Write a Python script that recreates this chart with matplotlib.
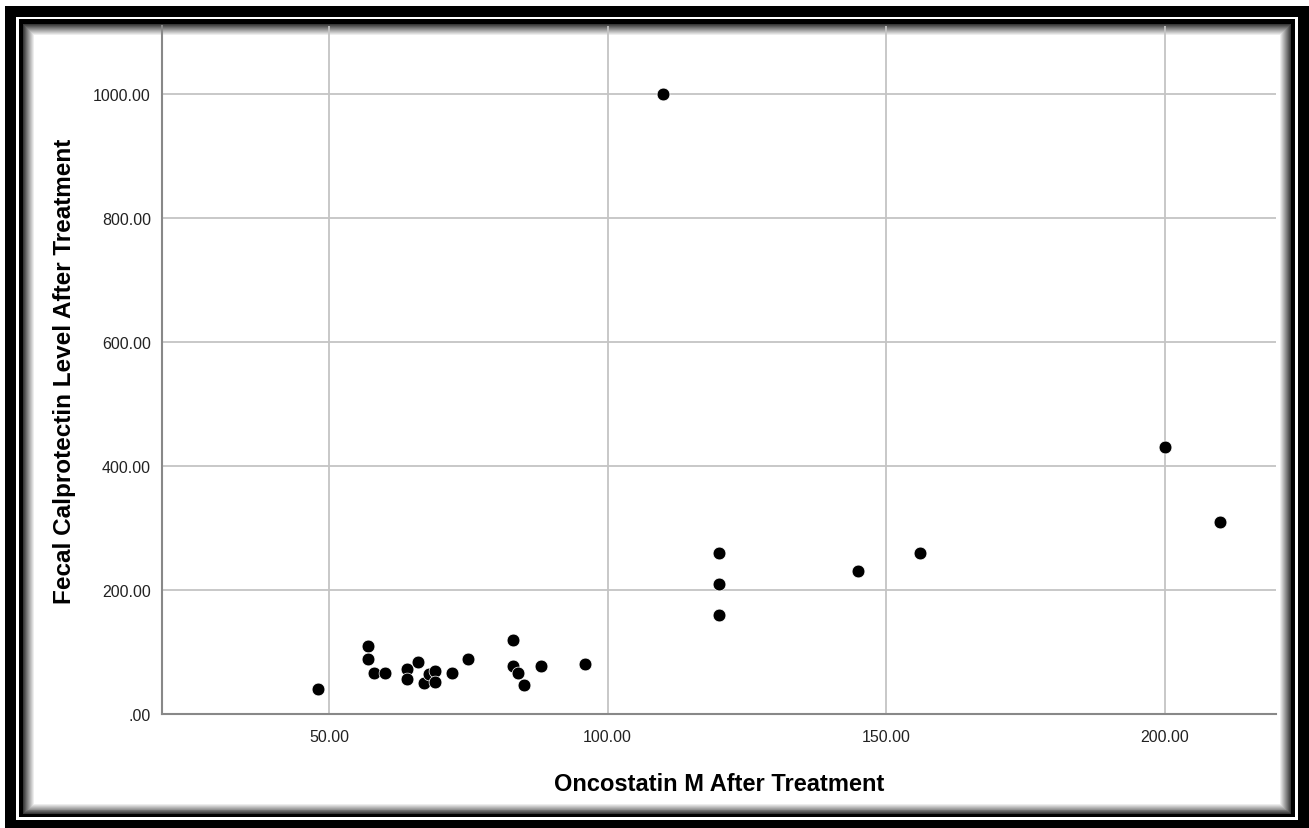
import matplotlib
matplotlib.use("Agg")
import matplotlib.pyplot as plt
from matplotlib.patches import Rectangle
from matplotlib.ticker import FuncFormatter

plt.rcParams['font.family'] = ['Liberation Sans', 'DejaVu Sans']

# oncostatin M vs fecal calprotectin, after treatment
osm = [48, 57, 57, 58, 60, 64, 64, 66, 67, 68, 69, 69, 72, 75,
       83, 83, 84, 85, 88, 96, 110, 120, 120, 120, 145, 156, 200, 210]
calpro = [40, 110, 88, 66, 66, 72, 57, 84, 50, 65, 70, 52, 66, 89,
          120, 78, 66, 46, 78, 80, 1000, 260, 210, 160, 230, 260, 431, 310]

xticks = [50, 100, 150, 200]
yticks = [0, 200, 400, 600, 800, 1000]

W, H = 1309, 829
fig = plt.figure(figsize=(W / 100, H / 100), dpi=100)


def box(x0, y0, x1, y1, color):
    # pixel coords, y from top
    fig.patches.append(Rectangle((x0 / W, 1 - y1 / H), (x1 - x0) / W, (y1 - y0) / H,
                                 transform=fig.transFigure, facecolor=color,
                                 edgecolor='none', zorder=-10))


# decorative frame
box(5, 7, W, H, 'black')
box(16, 18, 1298, 821, 'white')
box(19, 20, 1295, 818, 'black')
steps = 12
for i in range(steps):
    g = 0.15 + 0.85 * (i + 1) / steps
    box(23 + i, 25 + i, 1291 - i, 815 - i * 0.9, str(min(g, 1.0)))
box(23 + steps, 25 + steps, 1291 - steps, 815 - steps, 'white')

ax = fig.add_axes([162 / W, 1 - 715 / H, (1276 - 162) / W, (715 - 27) / H])
ax.set_facecolor('none')
ax.scatter(osm, calpro, s=85, c='black', edgecolors='white', linewidths=0.5, zorder=3)

ax.set_xlim(20, 220)
ax.set_ylim(0, 1110)
ax.set_xticks(xticks)
ax.set_yticks(yticks)


def fmt(v, pos):
    s = '%.2f' % v
    return s[1:] if s.startswith('0') else s


ax.xaxis.set_major_formatter(FuncFormatter(fmt))
ax.yaxis.set_major_formatter(FuncFormatter(fmt))
ax.tick_params(length=0, labelsize=11.5, colors='#222222')
ax.tick_params(axis='x', pad=11)
ax.tick_params(axis='y', pad=8)

for v in xticks:
    ax.axvline(v, color='#c4c4c4', lw=1.3, zorder=1)
for v in yticks[1:]:
    ax.axhline(v, color='#c4c4c4', lw=1.3, zorder=1)

for side in ['top', 'right']:
    ax.spines[side].set_visible(False)
for side in ['left', 'bottom']:
    ax.spines[side].set_color('#888888')
    ax.spines[side].set_linewidth(1.5)

ax.set_xlabel('Oncostatin M After Treatment', fontsize=17, fontweight='bold', labelpad=20)
ax.set_ylabel('Fecal Calprotectin Level After Treatment', fontsize=17.5, fontweight='bold', labelpad=12)

fig.savefig('out.png', dpi=100)
